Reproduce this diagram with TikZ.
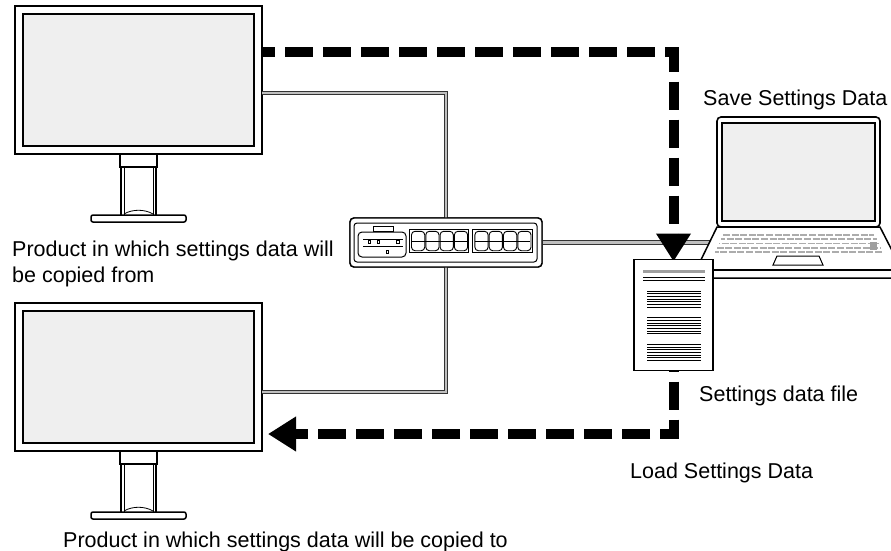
\documentclass[tikz,border=0pt]{standalone}
\usepackage{fontspec}
\setmainfont{Liberation Sans}
\usetikzlibrary{arrows.meta,calc}
\definecolor{scr}{HTML}{EFEFEF}
\begin{document}
\begin{tikzpicture}[x=1pt,y=-1pt,
  frame/.style={draw, line width=1.6pt, fill=white, rectangle, inner sep=0pt, outer sep=0pt,
    minimum width=247pt, minimum height=148pt},
  screen/.style={draw, line width=1.3pt, fill=scr},
  cable/.style={draw=black!80, line width=0.9pt, double=gray!50, double distance=2.4pt},
  flow/.style={line width=10pt, dash pattern=on 28pt off 10pt, -{Triangle[length=28pt,width=33pt]}},
  lbl/.style={font=\fontsize{21.5}{25.5}\selectfont, inner sep=0pt, anchor=base west, text=black, align=left},
  keyrow/.style={draw=gray!65, line width=1.9pt, dash pattern=on 7pt off 1.6pt},
  doctext/.style={line width=0.8pt},
  stand/.pic={
    \draw[line width=1.2pt, fill=white] (-18.5,0) rectangle (18.5,13);
    \draw[line width=1.2pt] (-17.5,13) -- (-17.5,61) (17.5,13) -- (17.5,61);
    \draw[line width=0.8pt] (-14.5,13) -- (-14.5,61) (14.5,13) -- (14.5,61);
    \draw[line width=0.8pt] (-14.5,60) .. controls (-6,55) and (6,55) .. (14.5,60);
    \draw[line width=1.5pt, fill=white, rounded corners=2pt] (-47.5,61) rectangle (47.5,68);
  }
]
\useasboundingbox (0,0) rectangle (891,550);
\fill[white] (0,0) rectangle (891,550);
\clip (0,0) rectangle (891,550);

% ---------- monitors ----------
\node[frame] (m1) at (138.5,80) {};
\node[frame] (m2) at (138.5,377) {};
\foreach \m in {m1,m2}{
  \draw[screen] ([shift={(8,8)}]\m.north west) rectangle ([shift={(-8,-8)}]\m.south east);
  \pic at (\m.south) {stand};
}

% ---------- helper coordinates ----------
\coordinate (yc1) at (0,93);
\coordinate (yc2) at (0,392);
\coordinate (yd1) at (0,52);
\coordinate (yd2) at (0,434);
\coordinate (lapin) at (709.7,242.5);

% ---------- switch ----------
\node[draw, line width=1.4pt, fill=white, rounded corners=4pt, inner sep=0pt, outer sep=0pt,
  minimum width=192pt, minimum height=49pt] (sw) at (446,242.5) {};

% ---------- cables ----------
\draw[cable] (m1.east |- yc1) -| ([yshift=-0.8pt]sw.north);
\draw[cable] ([yshift=0.8pt]sw.south) |- (m2.east |- yc2);
\draw[cable] ([xshift=0.8pt]sw.east) -- (lapin);

% switch body and details on top of cable ends
\draw[line width=1.4pt, fill=white, rounded corners=4pt] (sw.north west) rectangle (sw.south east);
\draw[line width=1pt, rounded corners=3pt] (354,223) rectangle (537,262);
\draw[line width=1pt, rounded corners=4pt] (358,232) rectangle (406,257);
\draw[line width=1pt, fill=white] (373,226) rectangle (393,231);
\draw[line width=0.9pt] (363,239) -- (403,239) (363,246) -- (403,246);
\foreach \sx/\sy in {369.3/241.7, 378.3/241.7, 397.7/241.7, 387.3/251.7}
  \draw[line width=0.7pt] (\sx-1.4,\sy-1.4) rectangle (\sx+1.4,\sy+1.4);
\foreach \gx in {409.3,472.7}{
  \draw[line width=1pt] (\gx,229.3) rectangle (\gx+59.5,252.7);
  \foreach \k in {0,1,2,3}{
    \draw[line width=0.9pt, rounded corners=3.5pt] (\gx+2.2+14.3*\k,231.3) rectangle (\gx+2.2+14.3*\k+13.2,250.7);
  }
  \draw[line width=0.9pt] (\gx+2.2,241) -- (\gx+57.3,241);
}

% ---------- laptop ----------
\draw[line width=1.5pt, fill=white] (717,227) -- (880,227) -- (902,270) -- (902,278) -- (696,278) -- (696,270) -- cycle;
\draw[line width=1.5pt] (696,270) -- (902,270);
\foreach \r/\ya/\xa/\xb in {0/235/723/874, 1/239/721/876.5, 2/243.5/719/878.5, 3/248/717/880.5, 4/252/715/882.5}
  \draw[keyrow, dash phase=\r*3pt] (\xa,\ya) -- (\xb,\ya);
\fill[gray!75] (870,241.5) rectangle (877,249.5);
\draw[line width=1pt] (777,256) -- (819,256) -- (823,265) -- (773,265) -- cycle;
\node[draw, line width=1.6pt, fill=white, rounded corners=4pt, inner sep=0pt, outer sep=0pt,
  minimum width=163pt, minimum height=110pt] (lap) at (798.5,172) {};
\draw[screen, line width=1.2pt] ([shift={(5,6)}]lap.north west) rectangle ([shift={(-5,-6)}]lap.south east);

% ---------- document ----------
\node[draw, line width=1.4pt, fill=white, inner sep=0pt, outer sep=0pt,
  minimum width=79pt, minimum height=111pt] (doc) at (673.5,315) {};

% ---------- data flow arrows ----------
\draw[flow, dash phase=15pt] (m1.east |- yd1) -| ([yshift=-2pt]doc.north);
\draw[flow, dash phase=27pt] (doc.south) |- ([xshift=6pt]m2.east |- yd2);

% document face on top of the flow start
\draw[line width=1.4pt, fill=white] (doc.north west) rectangle (doc.south east);
\draw[gray!75, line width=3pt] (643,271.5) -- (705,271.5);
\draw[doctext] (643,277.5) -- (705,277.5) (643,280.2) -- (705,280.2);
\foreach \gy in {291,317.7,344.3}
  \foreach \j in {0,...,6}
    \draw[doctext] (647,\gy+2.67*\j) -- (701,\gy+2.67*\j);

% ---------- labels ----------
\node[lbl] (t1) at (12,282) {Product in which settings data will\\be copied from};
\node[lbl] (t2) at (703,105) {Save Settings Data};
\node[lbl] (t3) at (699,401) {Settings data file};
\node[lbl] (t4) at (630,478) {Load Settings Data};
\node[lbl] (t5) at (63,547) {Product in which settings data will be copied to};
\end{tikzpicture}
\end{document}
